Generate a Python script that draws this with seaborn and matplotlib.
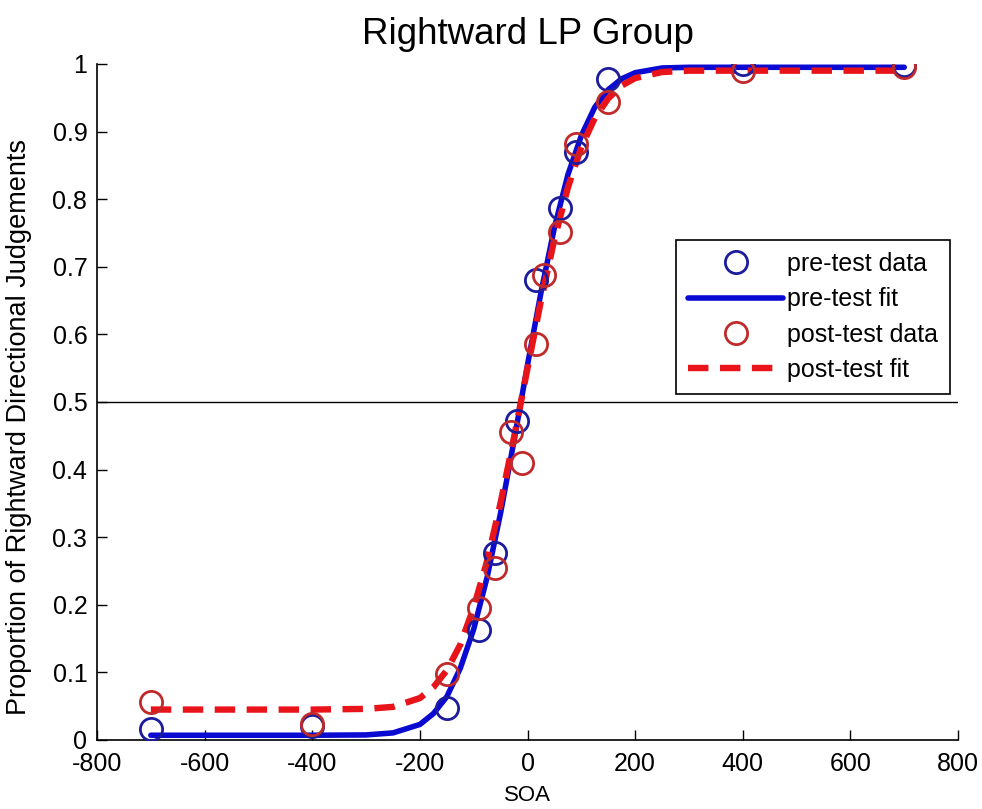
import seaborn as sns
import matplotlib.pyplot as plt
import pandas as pd

sns.set_style("ticks")
plt.rcParams["font.family"] = ["Liberation Sans", "DejaVu Sans"]
plt.rcParams["axes.unicode_minus"] = False
plt.rcParams["text.color"] = "black"
plt.rcParams["axes.labelcolor"] = "black"
plt.rcParams["xtick.color"] = "black"
plt.rcParams["ytick.color"] = "black"

# data points
pre_soa = [-700, -400, -150, -90, -60, -20, 15, 60, 90, 150, 400, 700]
pre_prop = [0.016, 0.020, 0.048, 0.163, 0.276, 0.472, 0.680, 0.787, 0.870, 0.978, 1.000, 0.998]

post_soa = [-700, -400, -150, -90, -60, -30, -10, 15, 30, 60, 90, 150, 400, 700]
post_prop = [0.056, 0.024, 0.098, 0.195, 0.255, 0.456, 0.410, 0.585, 0.688, 0.751, 0.882, 0.943, 0.990, 0.996]

# fitted curves
fit_soa = [-700, -600, -500, -400, -300, -250, -200, -175, -150, -125, -100, -75, -50, -25,
           0, 25, 50, 75, 100, 125, 150, 175, 200, 250, 300, 400, 500, 600, 700]
pre_fit = [0.007, 0.007, 0.007, 0.007, 0.0075, 0.0105, 0.023, 0.039, 0.064, 0.106, 0.164, 0.241,
           0.336, 0.443, 0.555, 0.662, 0.758, 0.836, 0.894, 0.936, 0.962, 0.978, 0.987, 0.994,
           0.995, 0.995, 0.995, 0.995, 0.995]
post_fit = [0.045, 0.045, 0.045, 0.045, 0.046, 0.049, 0.062, 0.078, 0.103, 0.141, 0.196, 0.265,
            0.351, 0.448, 0.550, 0.650, 0.741, 0.817, 0.877, 0.920, 0.949, 0.968, 0.979, 0.988,
            0.990, 0.990, 0.990, 0.990, 0.990]

pre_df = pd.DataFrame({"SOA": pre_soa, "prop": pre_prop})
post_df = pd.DataFrame({"SOA": post_soa, "prop": post_prop})
fit_df = pd.DataFrame({"SOA": fit_soa, "pre": pre_fit, "post": post_fit})

fig = plt.figure(figsize=(9.82, 8.09), dpi=100)
ax = fig.add_axes([0.0988, 0.0853, 0.8768, 0.8357])

ax.axhline(0.5, color="black", lw=1.0, zorder=1)

sns.lineplot(data=pre_df, x="SOA", y="prop", ax=ax, linestyle="", marker="o",
             markersize=16, markerfacecolor="none", markeredgecolor="#1c1c9c",
             markeredgewidth=2, color="#1c1c9c", label="pre-test data", zorder=3)
sns.lineplot(data=fit_df, x="SOA", y="pre", ax=ax, color="#0a0ad2", lw=4.0,
             label="pre-test fit", zorder=2)
sns.lineplot(data=post_df, x="SOA", y="prop", ax=ax, linestyle="", marker="o",
             markersize=16, markerfacecolor="none", markeredgecolor="#c02a2a",
             markeredgewidth=2, color="#c02a2a", label="post-test data", zorder=3)
sns.lineplot(data=fit_df, x="SOA", y="post", ax=ax, color="#e8141a", lw=4.6,
             linestyle=(0, (3.2, 1.8)), label="post-test fit", zorder=2)

ax.set_xlim(-800, 800)
ax.set_ylim(0, 1)
ax.set_xticks(range(-800, 801, 200))
ax.set_yticks([0, 0.1, 0.2, 0.3, 0.4, 0.5, 0.6, 0.7, 0.8, 0.9, 1])
ax.set_yticklabels(["0", "0.1", "0.2", "0.3", "0.4", "0.5", "0.6", "0.7", "0.8", "0.9", "1"])
ax.tick_params(labelsize=18, length=7, width=1, color="black", direction="in")
ax.tick_params(axis="y", pad=7)
ax.tick_params(axis="x", pad=9)
ax.set_xlabel("SOA", fontsize=16, labelpad=6)
ax.set_ylabel("Proportion of Rightward Directional Judgements", fontsize=19.5)
ax.yaxis.set_label_coords(-0.076, 0.463)
ax.set_title("Rightward LP Group", fontsize=26.5, pad=14, color="black")

for side in ["top", "right"]:
    ax.spines[side].set_visible(False)
for side in ["left", "bottom"]:
    ax.spines[side].set_color("black")
    ax.spines[side].set_linewidth(1.2)

leg = ax.legend(loc="upper right", bbox_to_anchor=(0.991, 0.740), fontsize=18,
                frameon=True, fancybox=False, edgecolor="black", framealpha=1,
                handlelength=3.8, handletextpad=0.15, borderpad=0.5, labelspacing=0.45,
                borderaxespad=0)
leg.get_frame().set_linewidth(1.2)

fig.savefig("out.png", dpi=100)
